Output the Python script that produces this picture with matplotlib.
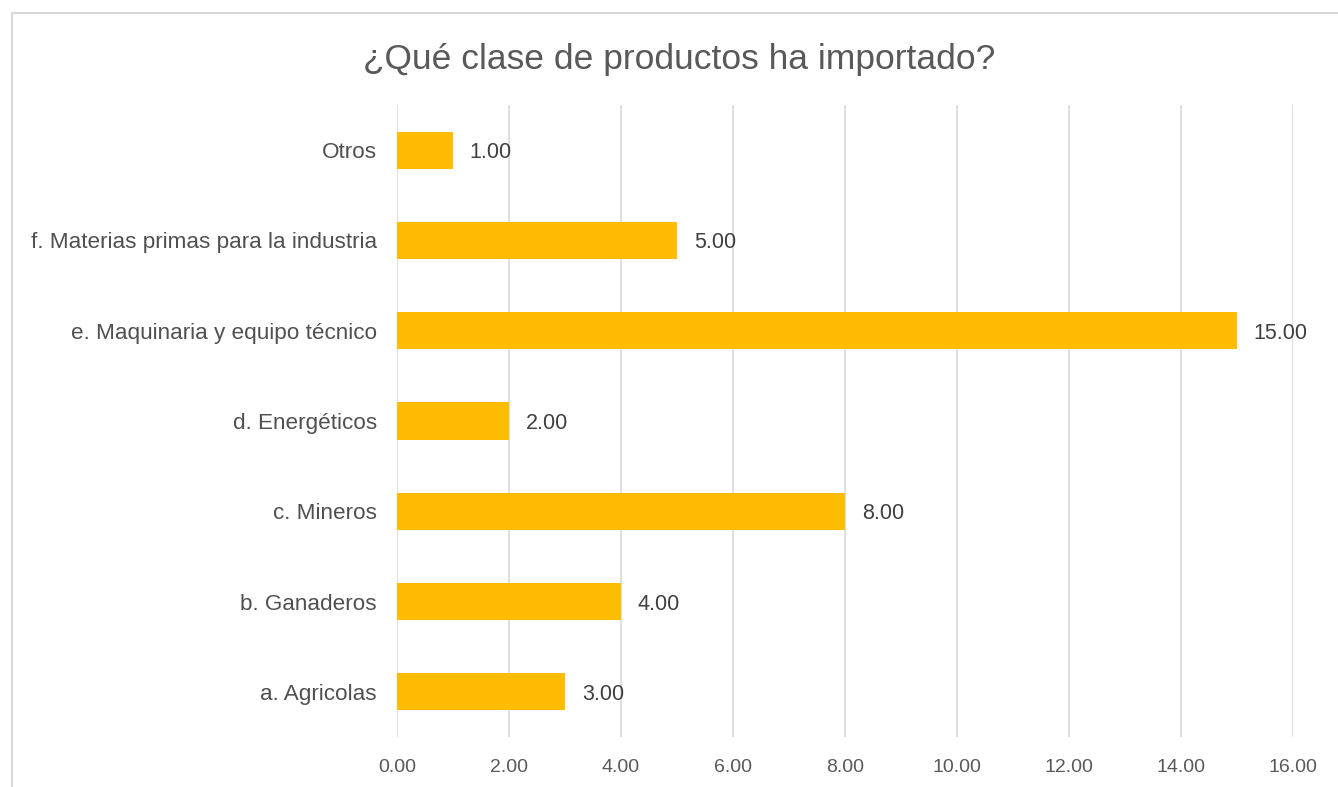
import matplotlib
matplotlib.use("Agg")
import matplotlib.pyplot as plt
from matplotlib.patches import Rectangle

categories = ["a. Agricolas", "b. Ganaderos", "c. Mineros", "d. Energéticos",
              "e. Maquinaria y equipo técnico", "f. Materias primas para la industria", "Otros"]
values = [3, 4, 8, 2, 15, 5, 1]
xticks = [0, 2, 4, 6, 8, 10, 12, 14, 16]
title = "¿Qué clase de productos ha importado?"

plt.rcParams['font.family'] = ['Liberation Sans', 'DejaVu Sans']
fig = plt.figure(figsize=(13.38, 7.87), dpi=100)
frame = Rectangle((12/1338, -0.01), 1.0, 1.01 - 13/787, transform=fig.transFigure,
                  facecolor='none', edgecolor='#d9d9d9', linewidth=1.5, zorder=-1)
fig.patches.append(frame)
ax = fig.add_axes([397/1338, 1 - 737/787, 896/1338, 632/787])
ax.set_facecolor('none')
ypos = range(len(categories))
ax.barh(ypos, values, height=0.41, color='#FFBC00', zorder=3)
for y, v in zip(ypos, values):
    ax.text(v + 0.3, y, f"{v:.2f}", va='center_baseline', ha='left', fontsize=15.5,
            color='#404040', zorder=4)
ax.set_xlim(0, 16)
ax.set_ylim(-0.5, len(categories) - 0.5)
ax.set_xticks(xticks)
ax.set_xticklabels([f"{t:.2f}" for t in xticks], fontsize=14, color='#595959')
ax.set_yticks(list(ypos))
ax.set_yticklabels(categories, fontsize=16.2, color='#505050')
ax.tick_params(axis='both', length=0)
ax.tick_params(axis='x', pad=16)
ax.tick_params(axis='y', pad=14.5)
ax.grid(axis='x', color='#d9d9d9', linewidth=1.2, zorder=0)
for s in ax.spines.values():
    s.set_visible(False)
fig.text(679/1338, 1 - 60/787, title, ha='center', va='center', fontsize=25.5, color='#595959')
fig.savefig("out.png", dpi=100)
